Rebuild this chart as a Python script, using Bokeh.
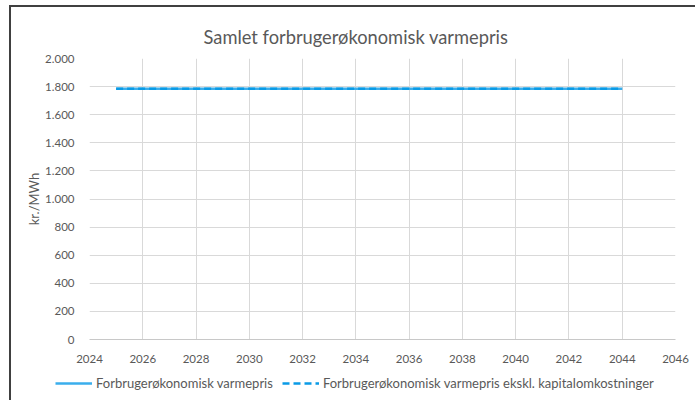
from bokeh.plotting import figure
from bokeh.models import (Range1d, SingleIntervalTicker, CustomJSTickFormatter,
                          Legend, LegendItem, Title)
from bokeh.embed import file_html
from bokeh.resources import INLINE

years = [2025, 2026, 2027, 2028, 2029, 2030, 2031, 2032, 2033, 2034,
         2035, 2036, 2037, 2038, 2039, 2040, 2041, 2042, 2043, 2044]
varmepris = [1785, 1785, 1785, 1785, 1785, 1785, 1785, 1785, 1785, 1785,
             1785, 1785, 1785, 1785, 1785, 1785, 1785, 1785, 1785, 1785]
varmepris_ekskl = [1785, 1785, 1785, 1785, 1785, 1785, 1785, 1785, 1785, 1785,
                   1785, 1785, 1785, 1785, 1785, 1785, 1785, 1785, 1785, 1785]
series_names = ["Forbrugerøkonomisk varmepris",
                "Forbrugerøkonomisk varmepris ekskl. kapitalomkostninger"]
title_text = "Samlet forbrugerøkonomisk varmepris"
y_label = "kr./MWh"

FONT = "Lato"
GREY = "#595959"
SOLID = "#3aaeec"
DASHED = "#0a9be6"

p = figure(frame_width=586, frame_height=281, output_backend="svg",
           toolbar_location=None,
           x_range=Range1d(2024, 2046), y_range=Range1d(0, 2000),
           min_border_left=78, min_border_right=20, min_border_top=51,
           min_border_bottom=35)
p.styles = {"border-left": "2px solid #404040",
            "border-top": "2px solid #404040",
            "transform": "translate(9px, 5px)"}
p.outline_line_color = None
p.title = Title(text=title_text, align="left", offset=114,
                text_font=FONT, text_font_size="18.3px", text_font_style="normal",
                text_color=GREY, standoff=22)

fmt = CustomJSTickFormatter(code="""
return Math.round(tick).toString().replace(/\\B(?=(\\d{3})+(?!\\d))/g, '.');
""")

p.xaxis.ticker = SingleIntervalTicker(interval=2)
p.yaxis.ticker = SingleIntervalTicker(interval=200)
p.yaxis.formatter = fmt
for ax in (p.xaxis, p.yaxis):
    ax.major_tick_line_color = None
    ax.minor_tick_line_color = None
    ax.major_label_text_font = FONT
    ax.major_label_text_font_size = "11.5px"
    ax.major_label_text_color = GREY
p.xaxis.axis_line_color = "#c8c8c8"
p.yaxis.axis_line_color = None
p.yaxis.major_label_standoff = 9
p.xaxis.major_label_standoff = 9
p.yaxis.axis_label = y_label
p.yaxis.axis_label_text_font = FONT
p.yaxis.axis_label_text_font_size = "13px"
p.yaxis.axis_label_text_font_style = "normal"
p.yaxis.axis_label_text_color = GREY
p.yaxis.axis_label_standoff = 0

p.xgrid.grid_line_color = "#d9d9d9"
p.ygrid.grid_line_color = "#d9d9d9"

p.line(years, varmepris, line_color=SOLID, line_width=2.5)
p.line(years, varmepris_ekskl, line_color=DASHED, line_width=2.5, line_dash="7 4")

# legend strip: a second root whose view keeps the series out of sight
lg = figure(width=684, height=26, output_backend="svg", toolbar_location=None,
            x_range=Range1d(2024, 2046), y_range=Range1d(0, 1),
            min_border=0, min_border_left=0, min_border_right=0,
            min_border_top=0, min_border_bottom=0)
lg.styles = {"border-left": "2px solid #404040",
             "transform": "translate(9px, 5px)"}
lg.axis.visible = False
lg.grid.visible = False
lg.outline_line_color = None
l1 = lg.line(years, varmepris, line_color=SOLID, line_width=2.5)
l2 = lg.line(years, varmepris_ekskl, line_color=DASHED, line_width=2.5,
             line_dash="7 4")
legend = Legend(items=[LegendItem(label=series_names[0], renderers=[l1]),
                       LegendItem(label=series_names[1], renderers=[l2])],
                orientation="horizontal", location=(44, 7),
                glyph_width=37, label_standoff=4, spacing=9,
                label_text_font=FONT, label_text_font_size="13px",
                label_text_color=GREY, border_line_color=None,
                background_fill_alpha=0, padding=0, margin=0)
lg.add_layout(legend, "center")

open("out.html", "w").write(file_html([p, lg], INLINE))
